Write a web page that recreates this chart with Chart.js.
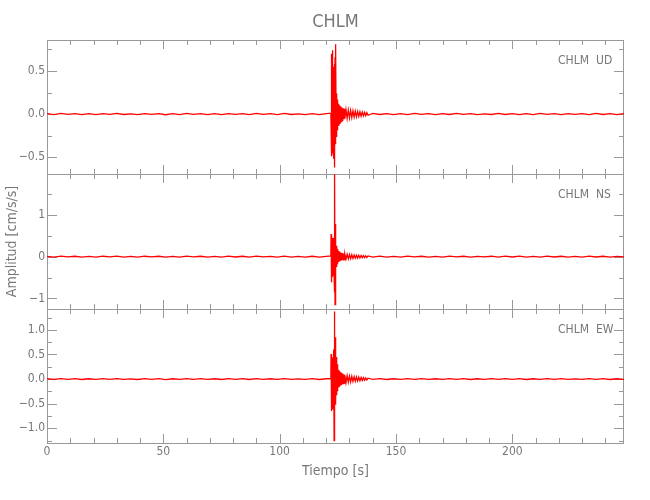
<!DOCTYPE html>
<html>
<head>
<meta charset="utf-8">
<script src="https://cdn.jsdelivr.net/npm/chart.js@4.4.1/dist/chart.umd.min.js"></script>
<style>
  body { margin: 0; background: #fff; }
  canvas { display: block; }
</style>
</head>
<body>
<canvas id="myChart" width="650" height="500"></canvas>
<script>
const station = "CHLM";
const components = ["UD", "NS", "EW"];

// sample times [s]
const times = [
  0, 3, 6, 9, 12, 15, 18, 21, 24, 27, 30, 33, 36, 39, 42, 45, 48, 51, 54, 57,
  60, 63, 66, 69, 72, 75, 78, 81, 84, 87, 90, 93, 96, 99, 102, 105, 108, 111, 114, 117,
  120,
  122.0, 122.1, 122.2, 122.3, 122.4, 122.5, 122.6, 122.7, 122.8, 122.9,
  123.0, 123.1, 123.2, 123.3, 123.4, 123.5, 123.6, 123.7, 123.8, 123.9,
  124.0, 124.1, 124.2, 124.3, 124.4, 124.5, 124.6, 124.7, 124.8, 124.9,
  125.0,
  125.2, 125.4, 125.6, 125.8, 126.0, 126.2, 126.4, 126.6, 126.8, 127.0,
  127.2, 127.4, 127.6, 127.8, 128.0,
  128.5, 129, 129.5, 130, 130.5, 131, 131.5, 132, 132.5, 133,
  133.5, 134, 134.5, 135, 135.5, 136, 136.5, 137, 137.5, 138,
  140, 143, 146, 149, 152, 155, 158, 161, 164, 167, 170, 173, 176, 179, 182, 185, 188, 191, 194, 197,
  200, 203, 206, 209, 212, 215, 218, 221, 224, 227, 230, 233, 236, 239, 242, 245, 248
];

const udValues = [
  0.004, -0.006, 0.007, -0.003, 0.005, -0.007, 0.004, -0.006, 0.006, -0.004,
  0.007, -0.005, 0.003, -0.007, 0.006, -0.004, 0.005, -0.008, 0.004, -0.006,
  0.007, -0.003, 0.006, -0.006, 0.004, -0.007, 0.006, -0.004, 0.005, -0.007,
  0.008, -0.004, 0.004, -0.006, 0.007, -0.005, 0.003, -0.006, 0.006, -0.007,
  0.005,
  0.01, -0.12, 0.45, -0.49, 0.70, -0.40, 0.74, -0.43, 0.62, -0.38,
  0.55, -0.45, 0.48, -0.52, 0.40, -0.62, 0.58, -0.48, 0.66, -0.35,
  0.72, -0.30, 0.81, -0.26, 0.24, -0.22, 0.20, -0.18, 0.17, -0.16,
  0.14,
  -0.13, 0.12, -0.11, 0.10, -0.10, 0.09, -0.085, 0.08, -0.075, 0.07,
  -0.068, 0.065, -0.06, 0.058, -0.055,
  0.052, -0.05, 0.047, -0.045, 0.042, -0.04, 0.038, -0.036, 0.034, -0.032,
  0.03, -0.028, 0.027, -0.025, 0.023, -0.021, 0.02, -0.018, 0.016, -0.014,
  0.007, -0.005, 0.006, -0.007, 0.004, -0.006, 0.007, -0.003, 0.005, -0.007,
  0.005, -0.005, 0.007, -0.004, 0.006, -0.007, 0.003, -0.005, 0.007, -0.005,
  0.005, -0.007, 0.004, -0.006, 0.007, -0.003, 0.005, -0.007, 0.006, -0.004,
  0.005, -0.006, 0.007, -0.005, 0.004, -0.007, 0.005
];

const nsValues = [
  0.008, -0.010, 0.011, -0.006, 0.009, -0.012, 0.007, -0.009, 0.010, -0.007,
  0.012, -0.009, 0.006, -0.011, 0.010, -0.007, 0.009, -0.013, 0.007, -0.010,
  0.011, -0.006, 0.009, -0.010, 0.007, -0.012, 0.010, -0.008, 0.009, -0.011,
  0.012, -0.007, 0.008, -0.010, 0.011, -0.009, 0.006, -0.010, 0.009, -0.012,
  0.008,
  0.02, 0.54, -0.61, 0.50, -0.55, 0.45, -0.48, 0.32, -0.40, 0.30,
  -0.43, 0.35, -0.38, 0.45, -0.50, 0.80, -0.85, 2.08, -1.15, 0.78,
  -0.45, 0.40, -0.30, 0.26, -0.25, 0.22, -0.21, 0.19, -0.18, 0.16,
  -0.15,
  0.14, -0.13, 0.12, -0.11, 0.10, -0.10, 0.09, -0.09, 0.085, -0.08,
  0.08, -0.075, 0.07, -0.07, 0.065,
  -0.06, 0.058, -0.055, 0.05, -0.048, 0.045, -0.042, 0.04, -0.038, 0.035,
  -0.033, 0.031, -0.03, 0.028, -0.026, 0.024, -0.022, 0.02, -0.018, 0.016,
  -0.009, 0.010, -0.011, 0.007, -0.009, 0.012, -0.006, 0.009, -0.010, 0.008,
  -0.010, 0.012, -0.007, 0.009, -0.011, 0.008, -0.006, 0.010, -0.009, 0.012,
  -0.008, 0.010, -0.012, 0.007, -0.009, 0.011, -0.008, 0.009, -0.010, 0.006,
  -0.010, 0.012, -0.008, 0.009, -0.011, 0.008, -0.007
];

const ewValues = [
  0.006, -0.008, 0.009, -0.005, 0.007, -0.009, 0.006, -0.007, 0.008, -0.006,
  0.009, -0.007, 0.005, -0.009, 0.008, -0.006, 0.007, -0.010, 0.006, -0.008,
  0.009, -0.005, 0.007, -0.008, 0.006, -0.009, 0.008, -0.006, 0.007, -0.009,
  0.010, -0.006, 0.006, -0.008, 0.009, -0.007, 0.005, -0.008, 0.008, -0.009,
  0.006,
  0.01, 0.51, -0.65, 0.48, -0.60, 0.44, -0.62, 0.40, -0.55, 0.44,
  -0.58, 0.42, -0.50, 0.60, -1.25, 1.37, -0.70, 0.95, -0.51, 0.85,
  -0.47, 0.65, -0.44, 0.45, -0.33, 0.38, -0.31, 0.30, -0.25, 0.22,
  -0.20,
  0.19, -0.17, 0.16, -0.15, 0.14, -0.13, 0.125, -0.12, 0.11, -0.105,
  0.10, -0.095, 0.09, -0.085, 0.08,
  -0.075, 0.07, -0.065, 0.06, -0.058, 0.055, -0.05, 0.048, -0.045, 0.042,
  -0.04, 0.037, -0.035, 0.032, -0.03, 0.027, -0.025, 0.022, -0.02, 0.017,
  -0.007, 0.008, -0.009, 0.006, -0.008, 0.009, -0.005, 0.007, -0.008, 0.006,
  -0.008, 0.009, -0.006, 0.007, -0.009, 0.006, -0.005, 0.008, -0.007, 0.009,
  -0.006, 0.008, -0.009, 0.006, -0.007, 0.009, -0.006, 0.007, -0.008, 0.005,
  -0.008, 0.009, -0.006, 0.007, -0.009, 0.006, -0.006
];

// axis ticks (minor + labelled)
const xTicks = [0, 10, 20, 30, 40, 50, 60, 70, 80, 90, 100, 110, 120, 130, 140, 150, 160, 170, 180, 190, 200, 210, 220, 230, 240];
const xLabels = [0, 50, 100, 150, 200];
const udTicks = [-0.5, -0.25, 0, 0.25, 0.5, 0.75];
const udLabels = [-0.5, 0, 0.5];
const nsTicks = [-1, -0.5, 0, 0.5, 1, 1.5];
const nsLabels = [-1, 0, 1];
const ewTicks = [-1.25, -1, -0.75, -0.5, -0.25, 0, 0.25, 0.5, 0.75, 1, 1.25];
const ewLabels = [-1, -0.5, 0, 0.5, 1];

const FONT = "'Liberation Sans Narrow', 'DejaVu Sans Condensed', sans-serif";
const textColor = "#777";
const frameColor = "#999";

const panels = [
  { id: "yUD", comp: components[0], values: udValues, ticks: udTicks, labels: udLabels, min: -0.70, max: 0.86, dec: 1 },
  { id: "yNS", comp: components[1], values: nsValues, ticks: nsTicks, labels: nsLabels, min: -1.245, max: 1.97, dec: 0 },
  { id: "yEW", comp: components[2], values: ewValues, ticks: ewTicks, labels: ewLabels, min: -1.30, max: 1.43, dec: 1 },
];

function fmt(v, dec) {
  const s = Math.abs(v).toFixed(dec);
  return v < 0 ? "\u2212" + s : s;
}

const scales = {
  x: {
    type: "linear",
    min: 0,
    max: 248,
    grid: { display: false, drawTicks: false },
    border: { display: false },
    afterBuildTicks: s => { s.ticks = xTicks.map(v => ({ value: v })); },
    afterFit: s => { s.height = 57; },
    ticks: {
      autoSkip: false,
      maxRotation: 0,
      padding: 2,
      color: textColor,
      font: { family: FONT, size: 12 },
      callback: v => (xLabels.includes(v) ? String(v) : ""),
    },
    title: {
      display: true,
      text: "Tiempo [s]",
      color: textColor,
      font: { family: FONT, size: 14 },
      padding: { top: 0, bottom: 20 },
    },
  },
};

// later-defined left axes are placed on top, so add them bottom-first
[...panels].reverse().forEach(p => {
  scales[p.id] = {
    type: "linear",
    position: "left",
    stack: "seis",
    stackWeight: 1,
    min: p.min,
    max: p.max,
    grid: { display: false, drawTicks: false },
    border: { display: false },
    afterBuildTicks: s => { s.ticks = p.ticks.map(v => ({ value: v })); },
    afterFit: s => { s.width = 47; },
    ticks: {
      autoSkip: false,
      padding: 2,
      color: textColor,
      font: { family: FONT, size: 12 },
      callback: v => (p.labels.includes(v) ? fmt(v, p.dec) : ""),
    },
    title: {
      display: p.id === "yNS",
      text: "Amplitud [cm/s/s]",
      color: textColor,
      font: { family: FONT, size: 14 },
      padding: { top: 4, bottom: 0 },
    },
  };
});

const framePlugin = {
  id: "frames",
  beforeDatasetsDraw(chart) {
    const { ctx, chartArea } = chart;
    const x = chart.scales.x;
    const left = chartArea.left, right = chartArea.right;
    ctx.save();
    ctx.strokeStyle = frameColor;
    ctx.lineWidth = 1;
    panels.forEach(p => {
      const y = chart.scales[p.id];
      const top = Math.round(y.top), bottom = Math.round(y.bottom);
      ctx.strokeRect(left + 0.5, top + 0.5, right - left - 1, bottom - top);
      ctx.beginPath();
      xTicks.forEach(v => {
        const px = Math.round(x.getPixelForValue(v)) + 0.5;
        const len = xLabels.includes(v) ? 9 : 5;
        ctx.moveTo(px, top);
        ctx.lineTo(px, top + len);
        ctx.moveTo(px, bottom);
        ctx.lineTo(px, bottom - len);
      });
      p.ticks.forEach(v => {
        const py = Math.round(y.getPixelForValue(v)) + 0.5;
        const len = p.labels.includes(v) ? 10 : 5;
        ctx.moveTo(left, py);
        ctx.lineTo(left + len, py);
        ctx.moveTo(right, py);
        ctx.lineTo(right - len, py);
      });
      ctx.stroke();
      ctx.fillStyle = textColor;
      ctx.font = "12px " + FONT;
      ctx.textBaseline = "middle";
      ctx.textAlign = "left";
      ctx.fillText(station, right - 66, top + 21);
      ctx.fillText(p.comp, right - 28, top + 21);
    });
    ctx.restore();
  },
};

new Chart(document.getElementById("myChart"), {
  type: "line",
  data: {
    datasets: panels.map(p => ({
      label: p.comp,
      yAxisID: p.id,
      data: times.map((t, i) => ({ x: t, y: p.values[i] })),
      borderColor: "rgb(255,0,0)",
      borderWidth: 1.3,
      pointRadius: 0,
      tension: 0,
    })),
  },
  options: {
    responsive: false,
    animation: false,
    layout: { padding: { left: 0, right: 26, top: 0, bottom: 0 } },
    plugins: {
      legend: { display: false },
      tooltip: { enabled: false },
      title: {
        display: true,
        text: station,
        fullSize: false,
        color: textColor,
        font: { family: FONT, size: 18, weight: "normal" },
        padding: { top: 12, bottom: 6.4 },
      },
    },
    scales: scales,
  },
  plugins: [framePlugin],
});
</script>
</body>
</html>
